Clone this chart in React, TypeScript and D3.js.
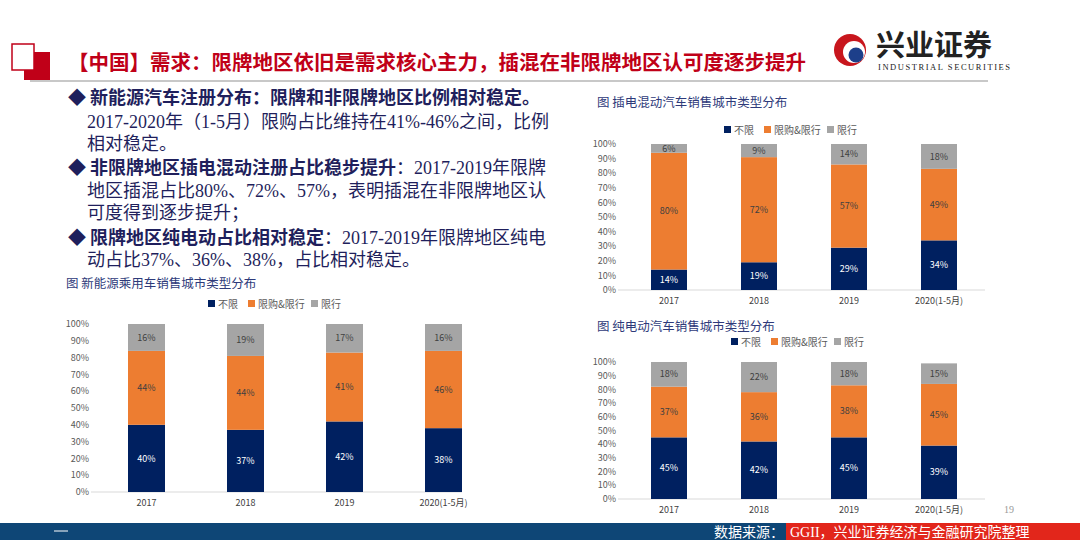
import React from 'react';
import * as d3 from 'd3';

const years = ['2017', '2018', '2019', '2020(1-5月)'];
const seriesNames = ['不限', '限购&限行', '限行'];
const colors = ['#002060', '#ed7d31', '#a5a5a5'];
const yTicks = [0, 10, 20, 30, 40, 50, 60, 70, 80, 90, 100];

const nevBuxian = [40, 37, 42, 38];
const nevXiangou = [44, 44, 41, 46];
const nevXianxing = [16, 19, 17, 16];

const phevBuxian = [14, 19, 29, 34];
const phevXiangou = [80, 72, 57, 49];
const phevXianxing = [6, 9, 14, 18];

const bevBuxian = [45, 42, 45, 39];
const bevXiangou = [37, 36, 38, 45];
const bevXianxing = [18, 22, 18, 15];

const CJK = '"Noto Sans CJK SC", sans-serif';
const MIX = '"Liberation Serif", "Noto Sans CJK SC", serif';
const NAVY_TEXT = '#1f1f5c';

type ChartProps = {
  series: number[][];
  x0: number; x1: number; axisEnd: number; yTop: number; yBottom: number;
  barWidth: number; legendY: number; legendX: number;
};

function StackedChart({series, x0, x1, axisEnd, yTop, yBottom, barWidth, legendY, legendX}: ChartProps) {
  const x = d3.scaleBand().domain(years).range([x0, x1]).paddingInner(0.6).paddingOuter(0.3);
  const y = d3.scaleLinear().domain([0, 100]).range([yBottom, yTop]);
  const rows = years.map((yr, i) => {
    const o: any = {year: yr};
    seriesNames.forEach((s, j) => (o[s] = series[j][i]));
    return o;
  });
  const stacked = d3.stack().keys(seriesNames)(rows);
  const axisStart = x0 - 6;
  return (
    <g fontFamily={CJK}>
      {yTicks.map(t => (
        <text key={t} x={axisStart - 2} y={y(t)} dy="0.35em" textAnchor="end" fontSize={9} fill="#595959">{t}%</text>
      ))}
      <line x1={axisStart} x2={axisEnd} y1={yBottom} y2={yBottom} stroke="#d9d9d9" />
      {stacked.map((layer, j) => (
        <g key={j}>
          {layer.map((d, i) => {
            const cx = x(years[i])! + x.bandwidth() / 2;
            const top = y(Math.min(d[1], 100));
            const bot = y(d[0]);
            return (
              <g key={i}>
                <rect x={cx - barWidth / 2} y={top} width={barWidth} height={bot - top} fill={colors[j]} />
                <text x={cx} y={(top + bot) / 2} dy="0.35em" textAnchor="middle" fontSize={9}
                  fill={j === 0 ? '#fff' : '#404040'}>{series[j][i]}%</text>
              </g>
            );
          })}
        </g>
      ))}
      {years.map(yr => (
        <text key={yr} x={x(yr)! + x.bandwidth() / 2} y={yBottom + 14} textAnchor="middle" fontSize={9} fill="#404040">{yr}</text>
      ))}
      {seriesNames.map((s, j) => {
        const offs = [0, 40, 103];
        return (
          <g key={s} transform={`translate(${legendX + offs[j]},${legendY})`}>
            <rect x={0} y={-4} width={7} height={7} fill={colors[j]} />
            <text x={10} y={0} dy="0.35em" fontSize={10} fill="#595959">{s}</text>
          </g>
        );
      })}
    </g>
  );
}

const bullets = [
  {y: 104, parts: [['◆ ', true], ['新能源汽车注册分布：限牌和非限牌地区比例相对稳定。', true]]},
  {y: 128, parts: [['2017-2020年（1-5月）限购占比维持在41%-46%之间，比例', false]], indent: true},
  {y: 150, parts: [['相对稳定。', false]], indent: true},
  {y: 174, parts: [['◆ ', true], ['非限牌地区插电混动注册占比稳步提升', true], ['：2017-2019年限牌', false]]},
  {y: 197, parts: [['地区插混占比80%、72%、57%，表明插混在非限牌地区认', false]], indent: true},
  {y: 219, parts: [['可度得到逐步提升；', false]], indent: true},
  {y: 244, parts: [['◆ ', true], ['限牌地区纯电动占比相对稳定', true], ['：2017-2019年限牌地区纯电', false]]},
  {y: 266, parts: [['动占比37%、36%、38%，占比相对稳定。', false]], indent: true},
];

export default function App() {
  return (
    <svg width={1080} height={540} style={{position: 'absolute', left: 0, top: 0, background: '#fff'}}>
      {/* header */}
      <rect x={24} y={52} width={26} height={28} fill="#c00018" />
      <rect x={12} y={44} width={22} height={26} fill="#fff" stroke="#c00018" strokeWidth={1.5} />
      <text x={68} y={70} fontFamily={CJK} fontWeight="bold" fontSize={20.5} fill="#c00018">【中国】需求：限牌地区依旧是需求核心主力，插混在非限牌地区认可度逐步提升</text>
      <line x1={30} x2={988} y1={81} y2={81} stroke="#c8c8c8" strokeWidth={2} />
      <circle cx={850} cy={50} r={16} fill="#c8161d" />
      <circle cx={854} cy={52} r={11} fill="#fff" />
      <circle cx={856} cy={55} r={7.5} fill="#1d3f8a" />
      <text x={876} y={56} fontFamily={CJK} fontWeight="bold" fontSize={29} fill="#222">兴业证券</text>
      <text x={878} y={70} fontFamily='"Liberation Serif", serif' fontSize={8.5} textLength={132} fill="#222">INDUSTRIAL SECURITIES</text>

      {/* bullets */}
      {bullets.map((b, i) => (
        <text key={i} x={b.indent ? 87 : 68} y={b.y} fontFamily={MIX} fontSize={18} fill={NAVY_TEXT}>
          {b.parts.map((p, k) => (
            <tspan key={k} fontWeight={p[1] ? 'bold' : 'normal'} fontFamily={p[1] ? CJK : MIX}>{p[0] as string}</tspan>
          ))}
        </text>
      ))}

      <text x={66} y={288} fontFamily={CJK} fontSize={12.5} fill="#2e3a7a">图 新能源乘用车销售城市类型分布</text>
      <text x={597} y={107} fontFamily={CJK} fontSize={12.5} fill="#2e3a7a">图 插电混动汽车销售城市类型分布</text>
      <text x={597} y={331} fontFamily={CJK} fontSize={12.5} fill="#2e3a7a">图 纯电动汽车销售城市类型分布</text>

      <StackedChart series={[nevBuxian, nevXiangou, nevXianxing]} x0={97} x1={493} axisEnd={462} yTop={324} yBottom={492}
        barWidth={37} legendY={304} legendX={208} />
      <StackedChart series={[phevBuxian, phevXiangou, phevXianxing]} x0={624} x1={984} axisEnd={985} yTop={144} yBottom={290}
        barWidth={36} legendY={130} legendX={724} />
      <StackedChart series={[bevBuxian, bevXiangou, bevXianxing]} x0={624} x1={984} axisEnd={985} yTop={362} yBottom={499}
        barWidth={36} legendY={342} legendX={731} />

      <text x={1004} y={513} fontFamily='"Liberation Serif", serif' fontSize={10} fill="#999">19</text>

      {/* footer */}
      <rect x={0} y={523} width={1080} height={17} fill="#0e4676" />
      <rect x={786} y={523} width={294} height={17} fill="#e2261b" />
      <line x1={54} x2={68} y1={531} y2={531} stroke="#fff" />
      <text x={784} y={537} textAnchor="end" fontFamily={CJK} fontSize={14} fill="#fff">数据来源：</text>
      <text x={790} y={537} fontFamily={MIX} fontSize={14} fill="#fff">GGII，兴业证券经济与金融研究院整理</text>
    </svg>
  );
}
